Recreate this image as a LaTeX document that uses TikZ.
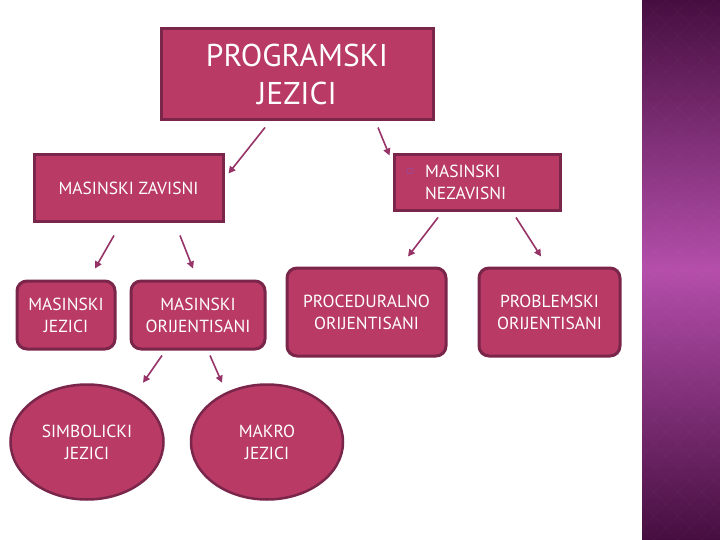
\documentclass[tikz,border=0pt]{standalone}
\usepackage{fontspec}
\setmainfont{PT Sans}
\usetikzlibrary{arrows.meta,shapes.geometric,calc}
\definecolor{boxfill}{RGB}{184,58,101}
\definecolor{boxline}{RGB}{122,38,74}
\definecolor{arrowc}{RGB}{150,52,104}
\definecolor{stripdark}{RGB}{70,14,64}
\definecolor{stripmid}{RGB}{180,78,170}
\definecolor{bulletc}{RGB}{160,70,140}
\tikzset{
  sqbox/.style={draw=boxline, fill=boxfill, line width=3pt, text=white, align=center, inner sep=0pt},
  rbox/.style={sqbox, rounded corners=10pt},
  ebox/.style={draw=boxline, fill=boxfill, line width=2.5pt, text=white, align=center, ellipse, inner sep=0pt},
  small/.style={font=\fontsize{17.5}{22}\selectfont},
  arr/.style={draw=arrowc, line width=1.6pt, -{Triangle[length=7pt,width=7pt]}, fill=arrowc}
}
\begin{document}
\begin{tikzpicture}[x=1pt,y=-1pt]
\useasboundingbox (0,0) rectangle (720,540);
\fill[white] (0,0) rectangle (720,540);
% right decorative strip
\shade[top color=stripdark, bottom color=stripdark, middle color=stripmid] (642,0) rectangle (720,540);
\begin{scope}
\clip (642,0) rectangle (720,540);
\foreach \k in {-30,...,30} {
  \draw[white, opacity=0.025, line width=1pt] (642+\k*24,0) -- ++(540,540);
  \draw[white, opacity=0.025, line width=1pt] (642+\k*24,0) -- ++(-540,540);
}
\end{scope}

% nodes
\node[sqbox, minimum width=272pt, minimum height=91pt, font=\fontsize{31.5}{38}\selectfont] (top) at (297,74.5) {PROGRAMSKI\\JEZICI};
\node[sqbox, small, minimum width=189pt, minimum height=67pt] (zav) at (128.5,188.5) {MASINSKI ZAVISNI};
\node[sqbox, minimum width=166pt, minimum height=56pt] (nez) at (477,183) {};
\node[small, text=white, align=left, anchor=west, inner sep=0pt] (neztext) at (425,182.5) {MASINSKI\\NEZAVISNI};
\node[draw=bulletc, line width=0.6pt, minimum size=5pt, inner sep=0pt] (bul) at (410,170.5) {};

\node[rbox, small, minimum width=98pt, minimum height=68pt] (mj) at (66,315) {MASINSKI\\JEZICI};
\node[rbox, small, minimum width=134pt, minimum height=68pt] (mo) at (198,315) {MASINSKI\\ORIJENTISANI};
\node[rbox, small, minimum width=159pt, minimum height=88pt] (proc) at (366.5,312) {PROCEDURALNO\\ORIJENTISANI};
\node[rbox, small, minimum width=141pt, minimum height=88pt] (prob) at (549.5,312) {PROBLEMSKI\\ORIJENTISANI};

\node[ebox, small, minimum width=153pt, minimum height=115pt] (simb) at (87,442) {SIMBOLICKI\\JEZICI};
\node[ebox, small, minimum width=152pt, minimum height=115pt] (makro) at (267,442) {MAKRO\\JEZICI};

% connectors
\draw[arr] ($(top.south)+(-32,6)$) -- ($(zav.north east)+(4,20)$);
\draw[arr] ($(top.south)+(81,6)$) -- ($(nez.north west)+(-3,2)$);
\draw[arr] ($(zav.south)+(-14.5,12)$) -- ($(mj.north)+(29,-11)$);
\draw[arr] ($(zav.south)+(51.5,12)$) -- ($(mo.north)+(-5,-11)$);
\draw[arr] ($(nez.south)+(-39,5)$) -- ($(proc.north)+(41.5,-10)$);
\draw[arr] ($(nez.south)+(39,5)$) -- ($(prob.north)+(-8.5,-10)$);
\draw[arr] ($(mo.south)+(-36,5)$) -- ($(simb.north)+(56,-0.5)$);
\draw[arr] ($(mo.south)+(12,5)$) -- ($(makro.north)+(-45,-0.5)$);
\end{tikzpicture}
\end{document}
